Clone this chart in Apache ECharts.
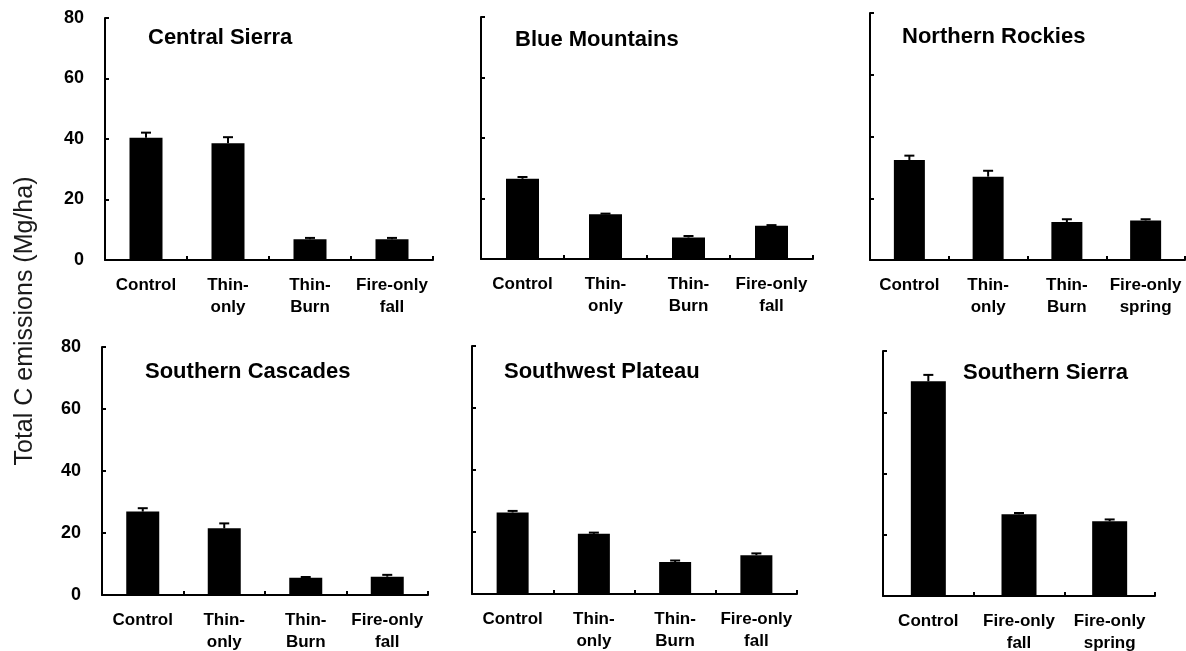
<!DOCTYPE html>
<html>
<head>
<meta charset="utf-8">
<script src="https://cdn.jsdelivr.net/npm/echarts@6/dist/echarts.min.js"></script>
<style>
html,body{margin:0;padding:0;background:#fff;}
#c{width:1186px;height:651px;}
</style>
</head>
<body>
<div id="c"></div>
<script>
// ---- data ----
const regions = ['Central Sierra','Blue Mountains','Northern Rockies','Southern Cascades','Southwest Plateau','Southern Sierra'];
const catsCentralSierra = ['Control','Thin-\nonly','Thin-\nBurn','Fire-only\nfall'];
const catsBlueMountains = ['Control','Thin-\nonly','Thin-\nBurn','Fire-only\nfall'];
const catsNorthernRockies = ['Control','Thin-\nonly','Thin-\nBurn','Fire-only\nspring'];
const catsSouthernCascades = ['Control','Thin-\nonly','Thin-\nBurn','Fire-only\nfall'];
const catsSouthwestPlateau = ['Control','Thin-\nonly','Thin-\nBurn','Fire-only\nfall'];
const catsSouthernSierra = ['Control','Fire-only\nfall','Fire-only\nspring'];

const meanCentralSierra = [40.4, 38.6, 6.9, 6.9];
const errCentralSierra  = [1.7, 2.0, 0.4, 0.4];
const meanBlueMountains = [26.5, 14.8, 7.1, 11.0];
const errBlueMountains  = [0.6, 0.2, 0.5, 0.2];
const meanNorthernRockies = [32.4, 27.0, 12.3, 12.8];
const errNorthernRockies  = [1.4, 1.9, 0.9, 0.4];
const meanSouthernCascades = [26.9, 21.5, 5.6, 5.9];
const errSouthernCascades  = [1.1, 1.6, 0.2, 0.6];
const meanSouthwestPlateau = [26.3, 19.4, 10.3, 12.5];
const errSouthwestPlateau  = [0.5, 0.4, 0.5, 0.6];
const meanSouthernSierra = [70.1, 26.7, 24.4];
const errSouthernSierra  = [2.1, 0.4, 0.6];

const yTicks = [0, 20, 40, 60, 80];
const yTitle = 'Total C emissions (Mg/ha)';

// ---- layout ----
const panels = [
  {cats: catsCentralSierra,   mean: meanCentralSierra,   err: errCentralSierra,   box:[105, 18, 328, 242], title:[143, 22], labels:true,  bw:33},
  {cats: catsBlueMountains,   mean: meanBlueMountains,   err: errBlueMountains,   box:[481, 17, 332, 242], title:[510, 24], labels:false, bw:33},
  {cats: catsNorthernRockies, mean: meanNorthernRockies, err: errNorthernRockies, box:[870, 13, 315, 247], title:[897, 21], labels:false, bw:31},
  {cats: catsSouthernCascades,mean: meanSouthernCascades,err: errSouthernCascades,box:[102, 347, 326, 248], title:[140, 356], labels:true, bw:33},
  {cats: catsSouthwestPlateau,mean: meanSouthwestPlateau,err: errSouthwestPlateau,box:[472, 346, 325, 248], title:[499, 356], labels:false, bw:32},
  {cats: catsSouthernSierra,  mean: meanSouthernSierra,  err: errSouthernSierra,  box:[883, 351, 272, 245], title:[958, 357], labels:false, bw:35}
];

const FONT = '"Liberation Sans", Arial, sans-serif';
const grid = [], xAxis = [], yAxis = [], series = [], title = [];

panels.forEach((p, i) => {
  grid.push({left: p.box[0], top: p.box[1], width: p.box[2], height: p.box[3], containLabel: false, outerBoundsMode: 'none'});
  xAxis.push({
    type: 'category', gridIndex: i, data: p.cats,
    axisLine: {lineStyle: {color: '#000', width: 2}},
    axisTick: {show: true, inside: true, length: 4, alignWithLabel: false, lineStyle: {color: '#000', width: 2}},
    axisLabel: {color: '#000', fontFamily: FONT, fontWeight: 'bold', fontSize: 17, lineHeight: 22, margin: 14, interval: 0},
    splitLine: {show: false}
  });
  yAxis.push({
    type: 'value', gridIndex: i, min: yTicks[0], max: yTicks[yTicks.length - 1], interval: yTicks[1] - yTicks[0],
    axisLine: {show: true, lineStyle: {color: '#000', width: 2}},
    axisTick: {show: true, inside: true, length: 4, lineStyle: {color: '#000', width: 2}},
    axisLabel: {show: p.labels, color: '#000', fontFamily: FONT, fontWeight: 'bold', fontSize: 18, margin: 21},
    splitLine: {show: false}
  });
  series.push({
    type: 'bar', xAxisIndex: i, yAxisIndex: i, data: p.mean, barWidth: p.bw,
    itemStyle: {color: '#000'}, silent: true, animation: false, z: 2
  });
  series.push({
    type: 'custom', xAxisIndex: i, yAxisIndex: i, animation: false, silent: true, z: 3,
    data: p.mean.map((m, j) => [j, m, p.err[j]]),
    renderItem: function (params, api) {
      const x = api.value(0), v = api.value(1), e = api.value(2);
      const base = api.coord([x, v]);
      const top = api.coord([x, v + e]);
      const hw = 5;
      return {
        type: 'group',
        children: [
          {type: 'line', shape: {x1: base[0], y1: base[1], x2: top[0], y2: top[1]}, style: {stroke: '#000', lineWidth: 2}},
          {type: 'line', shape: {x1: top[0] - hw, y1: top[1], x2: top[0] + hw, y2: top[1]}, style: {stroke: '#000', lineWidth: 2}}
        ]
      };
    }
  });
  title.push({
    text: regions[i], left: p.title[0], top: p.title[1],
    textStyle: {color: '#000', fontFamily: FONT, fontWeight: 'bold', fontSize: 22}
  });
});

const chart = echarts.init(document.getElementById('c'), null, {renderer: 'canvas'});
chart.setOption({
  backgroundColor: '#fff',
  animation: false,
  title: title,
  grid: grid,
  xAxis: xAxis,
  yAxis: yAxis,
  series: series,
  graphic: [{
    type: 'text', x: 25, y: 321, rotation: Math.PI / 2,
    style: {text: yTitle, fill: '#1a1a1a', font: '25px "Liberation Sans", Arial, sans-serif', align: 'center', verticalAlign: 'middle'}
  }]
});
</script>
</body>
</html>
